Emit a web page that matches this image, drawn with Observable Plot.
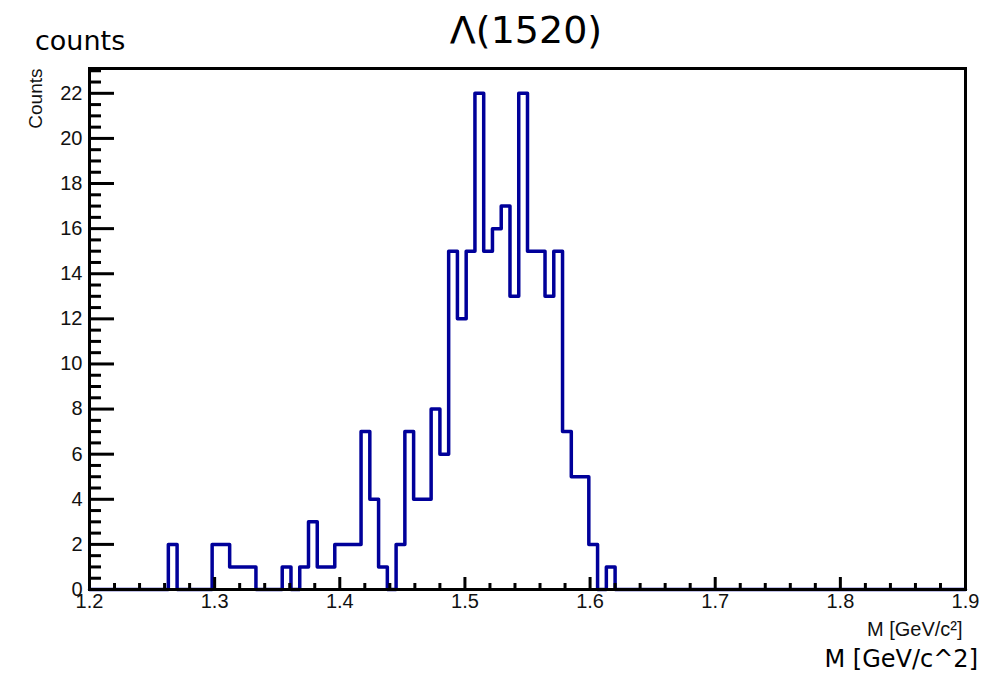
<!DOCTYPE html>
<html><head><meta charset="utf-8">
<script src="https://cdn.jsdelivr.net/npm/d3@7"></script>
<script src="https://cdn.jsdelivr.net/npm/@observablehq/plot@0.6"></script>
<style>
body{margin:0;background:#fff;}
#wrap{position:relative;width:997px;height:673px;overflow:hidden;background:#fff;}
.t{position:absolute;font-family:"Comic Sans MS","DejaVu Sans",sans-serif;color:#000;white-space:nowrap;line-height:1;}
#title{font-size:38px;left:526px;top:11px;transform:translateX(-50%);}
#ylab{font-size:27px;left:35px;top:27px;}
#xlab{font-size:24px;right:19px;top:647px;}
#chart{position:absolute;left:0;top:0;}
</style></head><body>
<div id="wrap">
<div id="chart"></div>
<div class="t" id="title">Λ(1520)</div>
<div class="t" id="ylab">counts</div>
<div class="t" id="xlab">M [GeV/c^2]</div>
</div>
<script>
// Histogram: 100 bins from 1.2 to 1.9 (bin width 0.007)
const binLow = 1.2;
const binWidth = 0.007;
const counts = [
  0,0,0,0,0,0,0,0,0,2,
  0,0,0,0,2,2,1,1,1,0,
  0,0,1,0,1,3,1,1,2,2,
  2,7,4,1,0,2,7,4,4,8,
  6,15,12,15,22,15,16,17,13,22,
  15,15,13,15,7,5,5,2,0,1,
  0,0,0,0,0,0,0,0,0,0,
  0,0,0,0,0,0,0,0,0,0,
  0,0,0,0,0,0,0,0,0,0,
  0,0,0,0,0,0,0,0,0,0
];
const xTicks = [1.2, 1.3, 1.4, 1.5, 1.6, 1.7, 1.8, 1.9];
const xTickLabels = ["1.2", "1.3", "1.4", "1.5", "1.6", "1.7", "1.8", "1.9"];
const yTicks = [0, 2, 4, 6, 8, 10, 12, 14, 16, 18, 20, 22];
const xMinor = d3.range(1.22, 1.9, 0.02).filter(v => Math.abs(Math.round(v * 10) - v * 10) > 1e-6);
const yMinor = d3.range(0.5, 23.01, 0.5).filter(v => v % 2 !== 0);
const xDomain = [1.2, 1.9];
const yDomain = [0, 23.1];

const pts = counts.map((c, i) => ({x: binLow + i * binWidth, y: c}));
pts.push({x: binLow + counts.length * binWidth, y: counts[counts.length - 1]});

const W = 997, H = 673, mL = 89, mR = 32, mT = 68, mB = 84;
const innerH = H - mT - mB, innerW = W - mL - mR;

const chart = Plot.plot({
  width: W, height: H,
  marginLeft: mL, marginRight: mR, marginTop: mT, marginBottom: mB,
  style: {fontFamily: "'Liberation Sans', Arial, sans-serif", fontSize: "20px", color: "#111", background: "transparent"},
  x: {domain: xDomain},
  y: {domain: yDomain},
  marks: [
    Plot.line(pts, {x: "x", y: "y", curve: "step-after", stroke: "#00009a", strokeWidth: 3.5}),
    Plot.tickX(xMinor, {x: d => d, insetTop: innerH - 6, stroke: "#000", strokeWidth: 3}),
    Plot.tickX(xTicks, {x: d => d, insetTop: innerH - 12, stroke: "#000", strokeWidth: 3}),
    Plot.tickY(yMinor, {y: d => d, insetRight: innerW - 12, stroke: "#000", strokeWidth: 3}),
    Plot.tickY(yTicks, {y: d => d, insetRight: innerW - 25, stroke: "#000", strokeWidth: 3}),
    Plot.axisX({ticks: xTicks, tickSize: 0, tickPadding: 4, fontSize: 20, tickFormat: (d, i) => xTickLabels[i], label: null}),
    Plot.axisY({ticks: yTicks, tickSize: 0, tickPadding: 7, fontSize: 20, label: null}),
    Plot.frame({stroke: "#000", strokeWidth: 3}),
    Plot.text(["Counts"], {frameAnchor: "top-left", text: d => d, rotate: -90, textAnchor: "end", dx: -61, fontSize: 19, fill: "#111"}),
    Plot.text(["M [GeV/c²]"], {frameAnchor: "bottom-right", text: d => d, textAnchor: "end", lineAnchor: "bottom", dx: -3, dy: 46, fontSize: 20, fill: "#111"})
  ]
});
document.getElementById("chart").appendChild(chart);
</script>
</body></html>
